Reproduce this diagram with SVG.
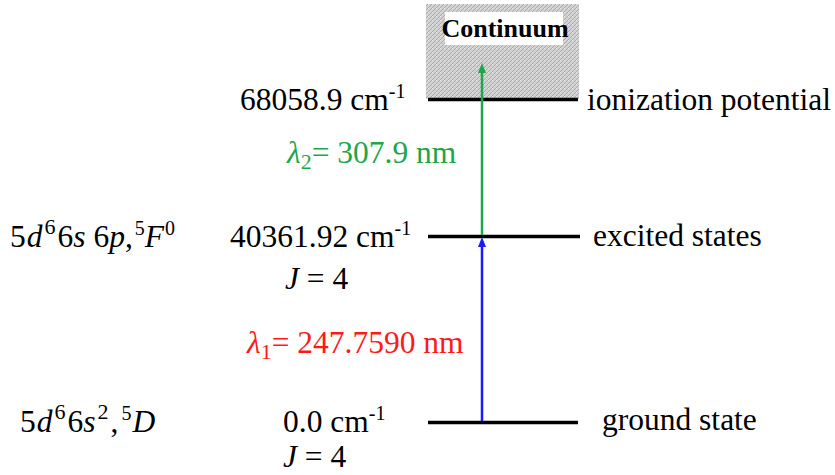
<svg xmlns="http://www.w3.org/2000/svg" width="835" height="475" viewBox="0 0 835 475">
  <defs>
    <pattern id="hatch" width="4" height="4" patternUnits="userSpaceOnUse">
      <rect width="4" height="4" fill="#d2d2d2"/>
      <path d="M0,4 L4,0" stroke="#ababab" stroke-width="1"/>
      <rect x="0" y="0" width="1" height="1" fill="#e6e6e6"/>
    </pattern>
    <marker id="arrG" markerWidth="10" markerHeight="10" refX="5" refY="5" orient="auto" markerUnits="userSpaceOnUse">
      <path d="M0,1 L10,5 L0,9 Z" fill="#1ea64a"/>
    </marker>
    <marker id="arrB" markerWidth="10" markerHeight="10" refX="5" refY="5" orient="auto" markerUnits="userSpaceOnUse">
      <path d="M0,1 L10,5 L0,9 Z" fill="#1a1aff"/>
    </marker>
  </defs>
  <style>
    .t { font-family: "Liberation Serif", "Times New Roman", serif; font-size: 31.5px; fill: #000; }
    .i { font-style: italic; }
    .sup { font-size: 20px; }
    .lvl { stroke: #000; stroke-width: 3.5; }
  </style>

  <g id="continuum">
    <rect x="426" y="4" width="153" height="95" fill="url(#hatch)"/>
    <rect x="445" y="12" width="118" height="33" fill="#fff"/>
    <text x="505" y="37" text-anchor="middle" font-family="Liberation Serif, serif" font-size="26" font-weight="bold">Continuum</text>
  </g>

  <g id="ionization">
    <line class="lvl" x1="428" y1="99.5" x2="578" y2="99.5"/>
    <text class="t" x="240" y="110">68058.9 cm<tspan class="sup" dy="-12">-1</tspan></text>
    <text class="t" x="587" y="110">ionization potential</text>
  </g>

  <g id="excited">
    <line class="lvl" x1="428" y1="236.5" x2="580" y2="236.5"/>
    <text class="t" x="10" y="247">5<tspan class="i" dx="1">d</tspan><tspan font-size="22" dx="2" dy="-13">6</tspan><tspan dx="2" dy="13">6</tspan><tspan class="i">s</tspan> 6<tspan class="i">p</tspan>,<tspan class="sup" dx="2" dy="-12">5</tspan><tspan class="i" dy="12">F</tspan><tspan class="sup" dx="1" dy="-12">0</tspan></text>
    <text class="t" x="230" y="247">40361.92 cm<tspan class="sup" dy="-12">-1</tspan></text>
    <text class="t" x="285" y="289"><tspan class="i">J</tspan> = 4</text>
    <text class="t" x="593" y="246">excited states</text>
  </g>

  <g id="ground">
    <line class="lvl" x1="428" y1="422.5" x2="578" y2="422.5"/>
    <text class="t" x="20" y="432">5<tspan class="i" dx="1">d</tspan><tspan font-size="22" dx="2" dy="-13">6</tspan><tspan dx="2" dy="13">6</tspan><tspan class="i">s</tspan><tspan font-size="22" dx="2" dy="-13">2</tspan><tspan dx="2" dy="13">,</tspan><tspan class="sup" dx="3" dy="-12">5</tspan><tspan class="i" dx="1" dy="12">D</tspan></text>
    <text class="t" x="283" y="432">0.0 cm<tspan class="sup" dy="-12">-1</tspan></text>
    <text class="t" x="283" y="467"><tspan class="i">J</tspan> = 4</text>
    <text class="t" x="602" y="430">ground state</text>
  </g>

  <g id="connectors">
    <line x1="482" y1="421" x2="482" y2="242" stroke="#1a1aff" stroke-width="2.5" marker-end="url(#arrB)"/>
    <line x1="482" y1="235" x2="482" y2="68" stroke="#1ea64a" stroke-width="2.5" marker-end="url(#arrG)"/>
    <text class="t" x="287" y="163" style="fill:#1ea64a"><tspan class="i">λ</tspan><tspan font-size="22" dy="6">2</tspan><tspan dy="-6">= 307.9 nm</tspan></text>
    <text class="t" x="247" y="353" style="fill:#ff1a1a"><tspan class="i">λ</tspan><tspan font-size="22" dy="6">1</tspan><tspan dy="-6">= 247.7590 nm</tspan></text>
  </g>
</svg>
